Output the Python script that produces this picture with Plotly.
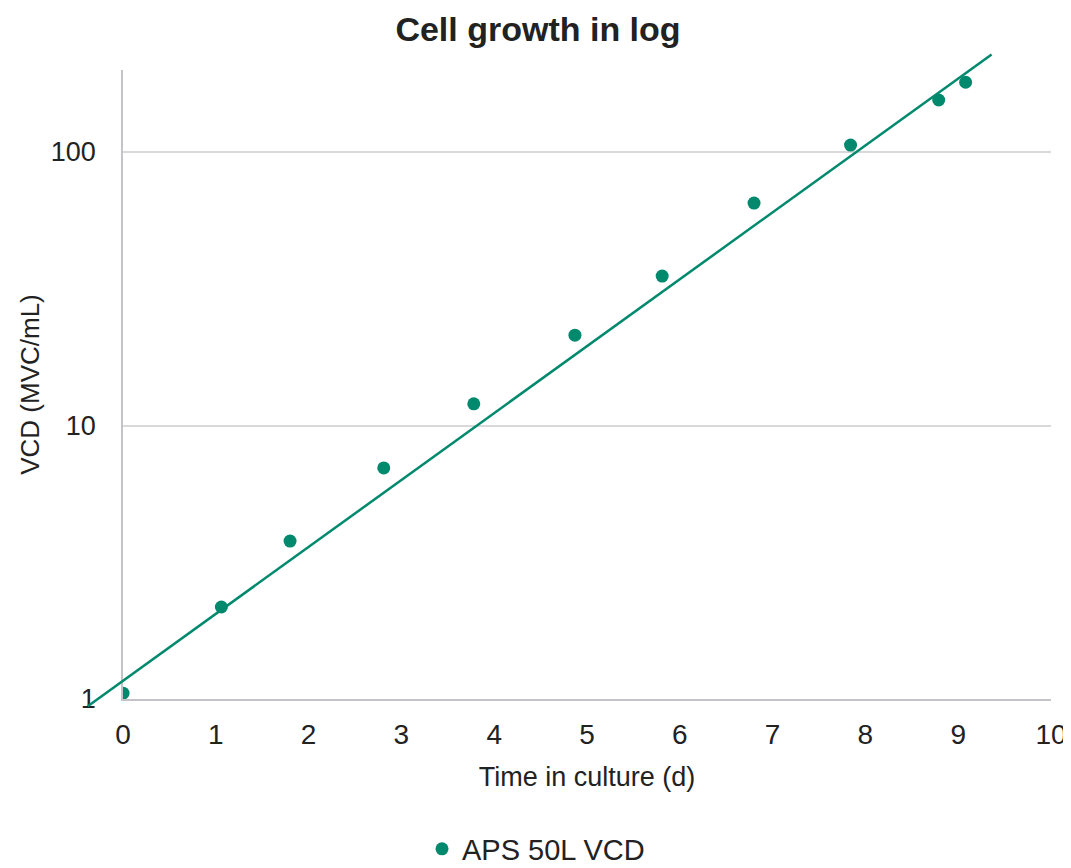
import numpy as np
import plotly.graph_objects as go

# ---- data ----
days = [0, 1.06, 1.80, 2.81, 3.78, 4.87, 5.81, 6.80, 7.84, 8.79, 9.08]
vcd = [1.05, 2.17, 3.78, 7.0, 12.0, 21.4, 35.2, 65.1, 106, 155, 180]
trend_intercept = 1.166      # VCD at day 0 of the exponential trendline
trend_log10_rate = 0.2447    # log10 units per day
trend_days = [-0.38, 9.36]   # extent of the trendline
x_ticks = list(range(0, 11))
y_ticks = [1, 10, 100]
series_name = "APS 50L VCD"

GREEN = "#00896D"
TEXT = "#222222"
FONT = "Liberation Sans"

OFF = 8  # page body margin
W, H = 1071 - OFF, 868 - OFF
ml, mr, mt, mb = 72, 20, 37, 156
pw, ph = W - ml - mr, H - mt - mb
X0, X10 = 123 - OFF, 1051 - OFF   # pixel of x=0 and x=10
YB, YT = 699 - OFF, 70 - OFF      # pixel of plot bottom and top
main_x_dom = [(X0 - ml) / pw, (X10 - ml) / pw]
main_y_dom = [(H - mb - YB) / ph, (H - mb - YT) / ph]
x_range = [0, 10]
y_range = [0, 2.3]  # log10


def extend(rng, dom):
    span = (rng[1] - rng[0]) / (dom[1] - dom[0])
    lo = rng[0] - dom[0] * span
    return [lo, lo + span]


tx = np.array(trend_days, dtype=float)
ty = trend_intercept * 10 ** (trend_log10_rate * tx)

fig = go.Figure()
fig.add_trace(go.Scatter(
    x=days, y=vcd, mode="markers", name=series_name,
    marker=dict(color=GREEN, size=13)))
fig.add_trace(go.Scatter(
    x=tx, y=ty, mode="lines", xaxis="x2", yaxis="y2",
    line=dict(color=GREEN, width=2.5), showlegend=False, hoverinfo="skip"))

fig.update_layout(
    width=W, height=H,
    margin=dict(l=ml, r=mr, t=mt, b=mb, autoexpand=False),
    paper_bgcolor="white", plot_bgcolor="rgba(0,0,0,0)",
    font=dict(family=FONT, color=TEXT, size=27),
    title=dict(text="<b>Cell growth in log</b>", x=(538 - OFF) / W, xanchor="center",
               xref="container", y=1 - 9 / H, yref="container", yanchor="top",
               pad=dict(t=0, b=0),
               font=dict(family=FONT, size=34, color=TEXT)),
    xaxis=dict(domain=main_x_dom, range=x_range, tickvals=x_ticks,
               showline=True, linecolor="#C4C4C8", linewidth=1.5,
               showgrid=False, zeroline=False, ticks="", automargin=False,
               tickfont=dict(size=28), anchor="y", ticklabeloverflow="allow",
               ticklabelstandoff=10,
               title=dict(text="Time in culture (d)", font=dict(size=27), standoff=18)),
    yaxis=dict(domain=main_y_dom, type="log", range=y_range, tickvals=y_ticks,
               ticktext=[str(v) for v in y_ticks],
               showline=True, linecolor="#C4C4C8", linewidth=1.5,
               showgrid=True, gridcolor="#D9D9DC", gridwidth=1.5,
               zeroline=False, ticks="", tickfont=dict(size=27), anchor="x",
               automargin=False, ticklabeloverflow="allow", ticklabelstandoff=20,
               title=dict(text="VCD (MVC/mL)", font=dict(size=26), standoff=4)),
    xaxis2=dict(domain=[0, 1], range=extend(x_range, main_x_dom), visible=False,
                anchor="y2"),
    yaxis2=dict(domain=[0, 1], type="log", range=extend(y_range, main_y_dom),
                visible=False, anchor="x2"),
    legend=dict(orientation="h", x=(528 - ml) / pw, xanchor="center",
                y=(H - mb - (849 - OFF)) / ph, yanchor="middle",
                font=dict(size=29), itemwidth=30),
    showlegend=True,
)

fig.write_html("out.html")
